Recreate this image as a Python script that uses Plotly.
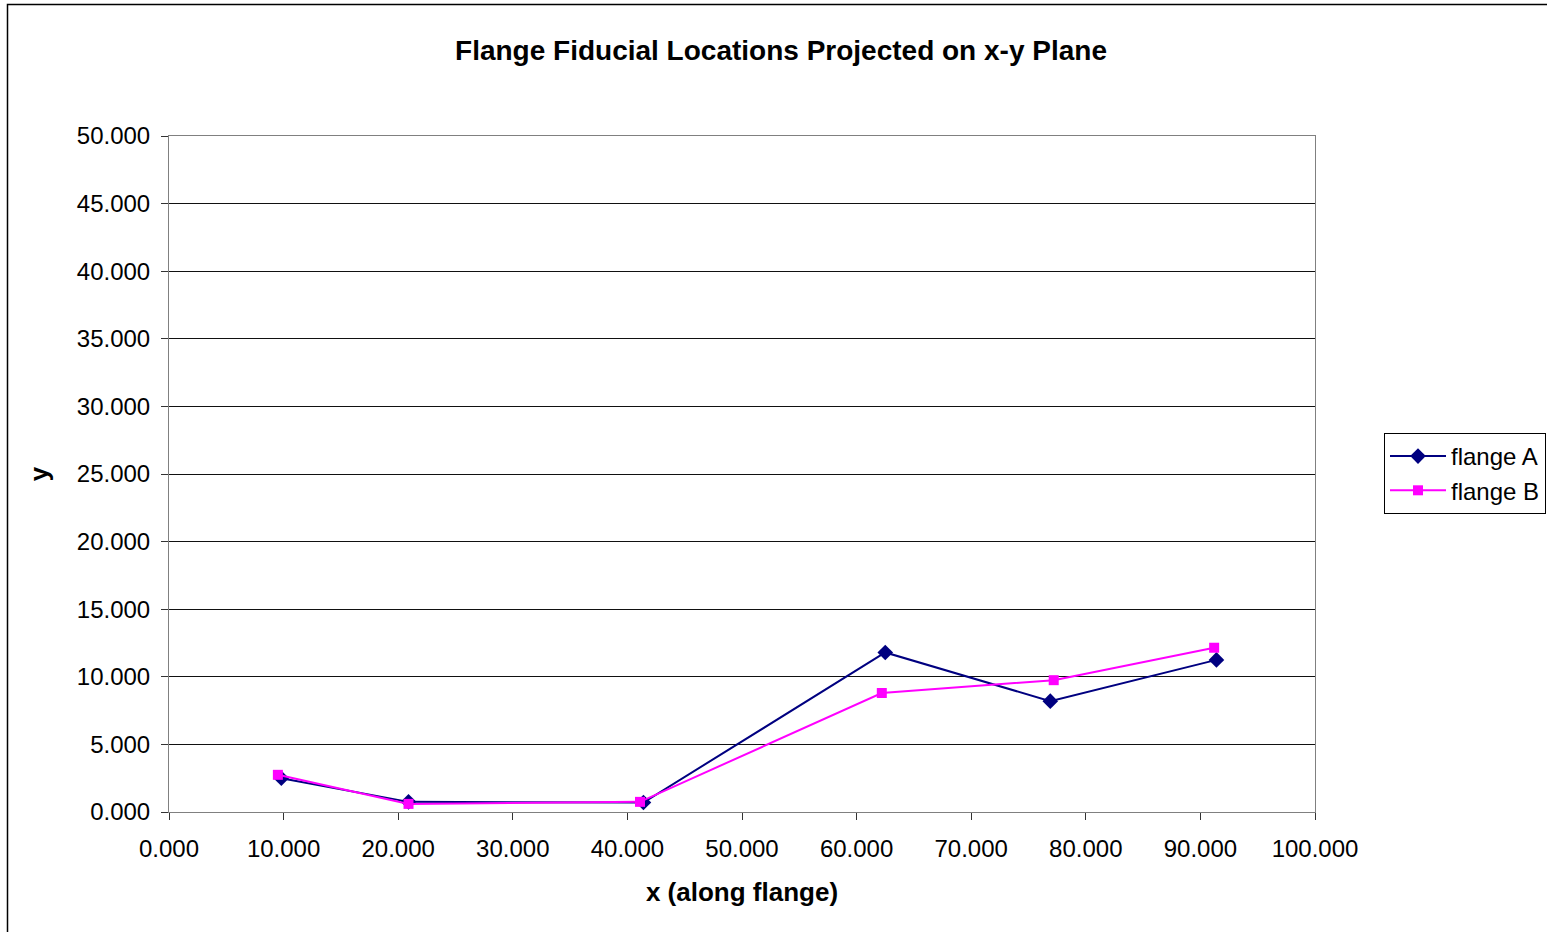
import plotly.graph_objects as go

# Data
flange_a_x = [9.8, 20.9, 41.4, 62.5, 76.9, 91.4]
flange_a_y = [2.5, 0.75, 0.7, 11.8, 8.2, 11.25]
flange_b_x = [9.5, 20.9, 41.1, 62.2, 77.2, 91.2]
flange_b_y = [2.75, 0.6, 0.75, 8.8, 9.75, 12.15]

series_names = ["flange A", "flange B"]
title_text = "Flange Fiducial Locations Projected on x-y Plane"
x_title = "x (along flange)"
y_title = "y"

FONT = "Liberation Sans, Arial, sans-serif"

W, H = 1547, 932
PL, PR, PT, PB = 169, 1315, 136, 812  # plot area in page pixels
L, T = PL, PT
R, B = W - PR, H - PB
pw, ph = PR - PL, PB - PT

def px_x(px):
    return (px - PL) / pw

def px_y(py):
    return (PB - py) / ph

fig = go.Figure()
fig.add_trace(go.Scatter(
    x=flange_a_x, y=flange_a_y, name=series_names[0], mode="lines+markers",
    line=dict(color="#000080", width=2),
    marker=dict(symbol="diamond", size=12, color="#000080"),
))
fig.add_trace(go.Scatter(
    x=flange_b_x, y=flange_b_y, name=series_names[1], mode="lines+markers",
    line=dict(color="#FF00FF", width=2),
    marker=dict(symbol="square", size=10, color="#FF00FF"),
))

fig.update_layout(
    width=W, height=H,
    margin=dict(l=L, r=R, t=T, b=B, autoexpand=False),
    paper_bgcolor="white", plot_bgcolor="white",
    font=dict(family=FONT, size=24, color="black"),
    title=dict(text="<b>" + title_text + "</b>", x=781 / W, xref="container",
               xanchor="center", y=1 - 50 / H, yref="container", yanchor="middle",
               font=dict(size=28, family=FONT)),
    xaxis=dict(range=[0, 100], tick0=0, dtick=10, tickformat=".3f",
               showgrid=False, zeroline=False, showline=True, linecolor="#808080",
               linewidth=1, mirror=True, ticks="outside", ticklen=7, tickcolor="#333",
               ticklabelstandoff=8,
               title=dict(text="<b>" + x_title + "</b>", standoff=22,
                          font=dict(size=26)),
               tickfont=dict(size=24)),
    yaxis=dict(range=[0, 50], tick0=0, dtick=5, tickformat=".3f",
               showgrid=True, gridcolor="#111", gridwidth=1, zeroline=False,
               showline=True, linecolor="#808080", linewidth=1, mirror=True,
               ticks="outside", ticklen=7, tickcolor="#333",
               ticklabelstandoff=6,
               title=dict(text="<b>" + y_title + "</b>", standoff=20,
                          font=dict(size=26)),
               tickfont=dict(size=24)),
    legend=dict(x=px_x(1384), y=px_y(433), xanchor="left", yanchor="top",
                bordercolor="black", borderwidth=1, bgcolor="white",
                font=dict(size=24), itemwidth=56, tracegroupgap=0),
    showlegend=True,
)

# outer chart border (left and top visible, right/bottom cropped)
fig.add_shape(type="rect", xref="paper", yref="paper",
              x0=px_x(7.5), y0=px_y(990), x1=px_x(1700), y1=px_y(4.5),
              line=dict(color="black", width=1.5), fillcolor="rgba(0,0,0,0)",
              layer="below")

fig.write_html("out.html",
               config={"displayModeBar": False},
               post_script="document.body.style.margin='0px';document.body.style.overflow='hidden';")
